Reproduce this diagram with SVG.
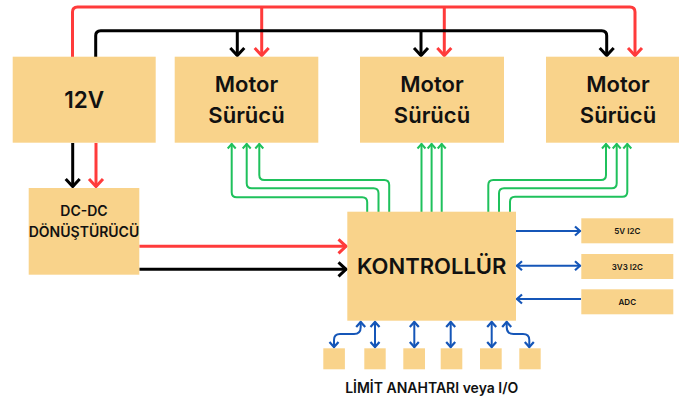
<svg xmlns="http://www.w3.org/2000/svg" width="679" height="403" viewBox="0 0 679 403">
<style>
.box{fill:#f9d38b}
.t{font-family:Inter,"Open Sans","Liberation Sans",sans-serif;font-weight:600;fill:#111;text-anchor:middle}
.red{fill:none;stroke:#ff3b3b;stroke-width:3}
.blk{fill:none;stroke:#000;stroke-width:3}
.grn{fill:none;stroke:#1fc15c;stroke-width:2}
.blu{fill:none;stroke:#1556b8;stroke-width:2}
</style>
<defs>
<marker id="ar" markerUnits="userSpaceOnUse" markerWidth="20" markerHeight="20" refX="0" refY="0" viewBox="-12 -10 14 20" orient="auto"><path d="M-8 -7 L-0.5 0 L-8 7" fill="none" stroke="#ff3b3b" stroke-width="3"/></marker>
<marker id="ab" markerUnits="userSpaceOnUse" markerWidth="20" markerHeight="20" refX="0" refY="0" viewBox="-12 -10 14 20" orient="auto"><path d="M-8 -7 L-0.5 0 L-8 7" fill="none" stroke="#000" stroke-width="3"/></marker>
<marker id="ag" markerUnits="userSpaceOnUse" markerWidth="12" markerHeight="12" refX="0" refY="0" viewBox="-7 -6 8 12" orient="auto"><path d="M-5 -4 L-0.5 0 L-5 4" fill="none" stroke="#1fc15c" stroke-width="2"/></marker>
<marker id="au" markerUnits="userSpaceOnUse" markerWidth="12" markerHeight="12" refX="0" refY="0" viewBox="-7 -6 8 12" orient="auto-start-reverse"><path d="M-5.5 -4.5 L-0.5 0 L-5.5 4.5" fill="none" stroke="#1556b8" stroke-width="2.2"/></marker>
</defs>
<g id="connectors">
<path class="red" d="M72.5 57 V12 Q72.5 7 77.5 7 H630 Q635 7 635 12 V56" marker-end="url(#ar)"/>
<path class="red" d="M261.7 7 V56" marker-end="url(#ar)"/>
<path class="red" d="M444.3 7 V56" marker-end="url(#ar)"/>
<path class="blk" d="M95.7 57 V35.7 Q95.7 30.7 100.7 30.7 H601.7 Q606.7 30.7 606.7 35.7 V56" marker-end="url(#ab)"/>
<path class="blk" d="M237.3 30.7 V56" marker-end="url(#ab)"/>
<path class="blk" d="M421 30.7 V56" marker-end="url(#ab)"/>
<path class="blk" d="M72.7 143 V187" marker-end="url(#ab)"/>
<path class="red" d="M96 143 V187" marker-end="url(#ar)"/>
<path class="red" d="M139.3 246.3 H346.5" marker-end="url(#ar)"/>
<path class="blk" d="M139.3 269.3 H346.5" marker-end="url(#ab)"/>
<path class="grn" d="M367.2 212 V202.3 Q367.2 197.3 362.2 197.3 H236.7 Q231.7 197.3 231.7 192.3 V143.5" marker-end="url(#ag)"/>
<path class="grn" d="M378.5 212 V193.3 Q378.5 188.3 373.5 188.3 H251.7 Q246.7 188.3 246.7 183.3 V143.5" marker-end="url(#ag)"/>
<path class="grn" d="M389.2 212 V185 Q389.2 180 384.2 180 H264.3 Q259.3 180 259.3 175 V143.5" marker-end="url(#ag)"/>
<path class="grn" d="M421.5 212 V143.5" marker-end="url(#ag)"/>
<path class="grn" d="M431.6 212 V143.5" marker-end="url(#ag)"/>
<path class="grn" d="M441.7 212 V143.5" marker-end="url(#ag)"/>
<path class="grn" d="M488.3 212 V185 Q488.3 180 493.3 180 H601 Q606 180 606 175 V143.5" marker-end="url(#ag)"/>
<path class="grn" d="M499 212 V193.3 Q499 188.3 504 188.3 H611.7 Q616.7 188.3 616.7 183.3 V143.5" marker-end="url(#ag)"/>
<path class="grn" d="M510 212 V201.7 Q510 196.7 515 196.7 H622.3 Q627.3 196.7 627.3 191.7 V143.5" marker-end="url(#ag)"/>
<path class="blu" d="M516 231 H580.5" marker-end="url(#au)"/>
<path class="blu" d="M516.5 265.7 H580.5" marker-start="url(#au)" marker-end="url(#au)"/>
<path class="blu" d="M581 299 H516.5" marker-end="url(#au)"/>
<path class="blu" d="M334 347.5 V340 Q334 334 340 334 H354 Q360.7 334 360.7 327 V321.5" marker-start="url(#au)" marker-end="url(#au)"/>
<path class="blu" d="M375 321.5 V347.5" marker-start="url(#au)" marker-end="url(#au)"/>
<path class="blu" d="M414.3 321.5 V347.5" marker-start="url(#au)" marker-end="url(#au)"/>
<path class="blu" d="M450.7 321.5 V347.5" marker-start="url(#au)" marker-end="url(#au)"/>
<path class="blu" d="M491.7 321.5 V347.5" marker-start="url(#au)" marker-end="url(#au)"/>
<path class="blu" d="M506.7 321.5 V327 Q506.7 334 513.5 334 H523 Q529.3 334 529.3 340 V347.5" marker-start="url(#au)" marker-end="url(#au)"/>
</g>
<g id="n12v"><rect class="box" x="12.7" y="56.7" width="143" height="86"/><text class="t" x="84.2" y="108" font-size="22.5">12V</text></g>
<g id="motor1"><rect class="box" x="174.7" y="56.7" width="143.6" height="86"/><text class="t" x="246.5" y="92" font-size="22">Motor</text><text class="t" x="246.5" y="123.3" font-size="22">Sürücü</text></g>
<g id="motor2"><rect class="box" x="360" y="56.7" width="144" height="86"/><text class="t" x="432" y="92" font-size="22">Motor</text><text class="t" x="432" y="123.3" font-size="22">Sürücü</text></g>
<g id="motor3"><rect class="box" x="546" y="56.7" width="144" height="86"/><text class="t" x="618" y="92" font-size="22">Motor</text><text class="t" x="618" y="123.3" font-size="22">Sürücü</text></g>
<g id="dcdc"><rect class="box" x="28.7" y="188" width="110.6" height="86.7"/><text class="t" x="84" y="216" font-size="14" font-weight="500">DC-DC</text><text class="t" x="84" y="236.7" font-size="14" font-weight="500">DÖNÜŞTÜRÜCÜ</text></g>
<g id="kontrol"><rect class="box" x="347.3" y="211.7" width="168.7" height="109"/><text class="t" x="431.7" y="273.5" font-size="22" font-weight="700">KONTROLLÜR</text></g>
<g id="i2c5"><rect class="box" x="581.3" y="218.3" width="92" height="25"/><text class="t" x="627.3" y="233.8" font-size="8">5V I2C</text></g>
<g id="i2c33"><rect class="box" x="581.3" y="254" width="92" height="25"/><text class="t" x="627.3" y="269.5" font-size="8">3V3 I2C</text></g>
<g id="adc"><rect class="box" x="581.3" y="289.3" width="92" height="25"/><text class="t" x="627.3" y="304.8" font-size="8">ADC</text></g>
<g id="io1"><rect class="box" x="323.3" y="348.3" width="21.6" height="21"/></g>
<g id="io2"><rect class="box" x="364.3" y="348.3" width="21.4" height="21"/></g>
<g id="io3"><rect class="box" x="403.3" y="348.3" width="21.7" height="21"/></g>
<g id="io4"><rect class="box" x="440.7" y="348.3" width="21.6" height="21"/></g>
<g id="io5"><rect class="box" x="480" y="348.3" width="21.7" height="21"/></g>
<g id="io6"><rect class="box" x="519.3" y="348.3" width="21.4" height="21"/></g>
<text class="t" x="431.7" y="393" font-size="14">LİMİT ANAHTARI veya I/O</text>
</svg>
